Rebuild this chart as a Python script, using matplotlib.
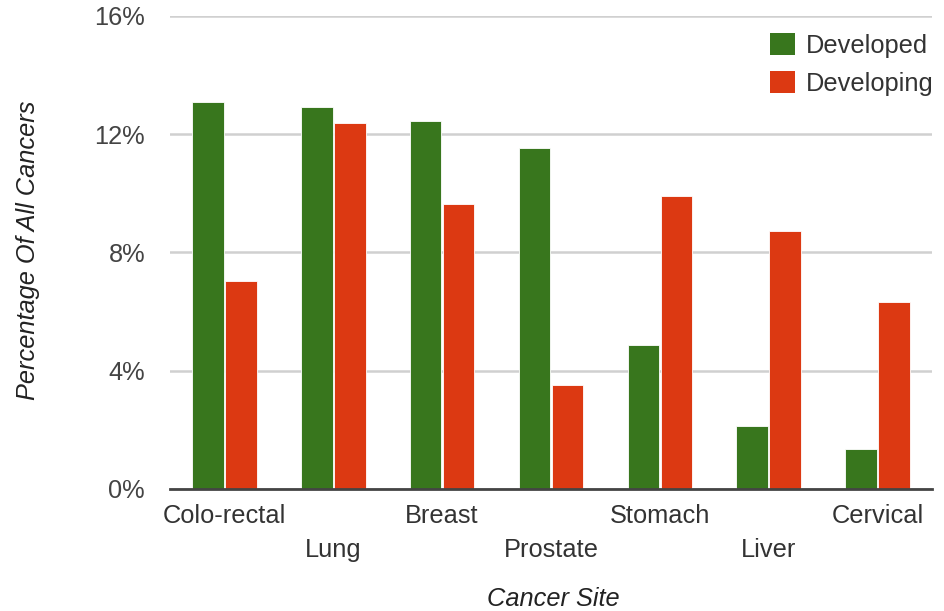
import matplotlib
matplotlib.use("Agg")
import matplotlib.pyplot as plt
import numpy as np
from matplotlib.transforms import ScaledTranslation
from matplotlib.patches import Patch

categories = ["Colo-rectal", "Lung", "Breast", "Prostate", "Stomach", "Liver", "Cervical"]
developed = [13.08, 12.92, 12.44, 11.54, 4.86, 2.13, 1.34]
developing = [7.03, 12.36, 9.63, 3.53, 9.92, 8.73, 6.33]
series_names = ["Developed", "Developing"]
yticks = [0, 4, 8, 12, 16]
ytick_labels = ["0%", "4%", "8%", "12%", "16%"]

plt.rcParams['font.family'] = ['Liberation Sans', 'DejaVu Sans']
FS = 18.3
GREEN = "#38761d"
RED = "#dc3912"

fig = plt.figure(figsize=(9.44, 6.11), dpi=100)
ax = fig.add_axes([170/944, (611-489)/611, 762/944, (489-15.7)/611])

x = np.arange(len(categories))
w = 0.29
ax.bar(x - 0.152, developed, width=w, color=GREEN, edgecolor="white", linewidth=0.6, zorder=3)
ax.bar(x + 0.152, developing, width=w, color=RED, edgecolor="white", linewidth=0.6, zorder=3)

ax.set_xlim(-0.5, len(categories) - 0.5)
ax.set_ylim(0, 16)
ax.set_yticks(yticks)
ax.set_yticklabels(ytick_labels)
ax.yaxis.grid(True, color="#d0d0d0", linewidth=1.8, zorder=0)
ax.set_axisbelow(True)
for s in ["top", "right", "left"]:
    ax.spines[s].set_visible(False)
ax.spines["bottom"].set_color("#444444")
ax.spines["bottom"].set_linewidth(2)
ax.spines["bottom"].set_zorder(4)

ax.tick_params(axis="y", length=0, pad=18, labelsize=FS, labelcolor="#444444")
ax.tick_params(axis="x", length=0, pad=11, labelsize=FS, labelcolor="#333333")
ax.set_xticks(x)
ax.set_xticklabels(categories)
for i, lab in enumerate(ax.get_xticklabels()):
    if i % 2 == 1:
        lab.set_transform(lab.get_transform() + ScaledTranslation(0, -0.34, fig.dpi_scale_trans))

fig.text(553/944, 1 - 599/611, "Cancer Site", ha="center", va="center",
         fontsize=FS, style="italic", color="#222222")
fig.text(28/944, 1 - 250/611, "Percentage Of All Cancers", ha="center", va="center",
         rotation=90, fontsize=FS, style="italic", color="#222222")

handles = [Patch(facecolor=GREEN, edgecolor="none"), Patch(facecolor=RED, edgecolor="none")]
leg = ax.legend(handles, series_names, loc="upper left",
                bbox_to_anchor=(770/944, 1 - 33/611), bbox_transform=fig.transFigure,
                frameon=False, fontsize=FS, handlelength=0.98, handleheight=0.98,
                handletextpad=0.42, labelspacing=0.5, borderpad=0, borderaxespad=0)
for t in leg.get_texts():
    t.set_color("#333333")

fig.savefig("out.png", dpi=100)
